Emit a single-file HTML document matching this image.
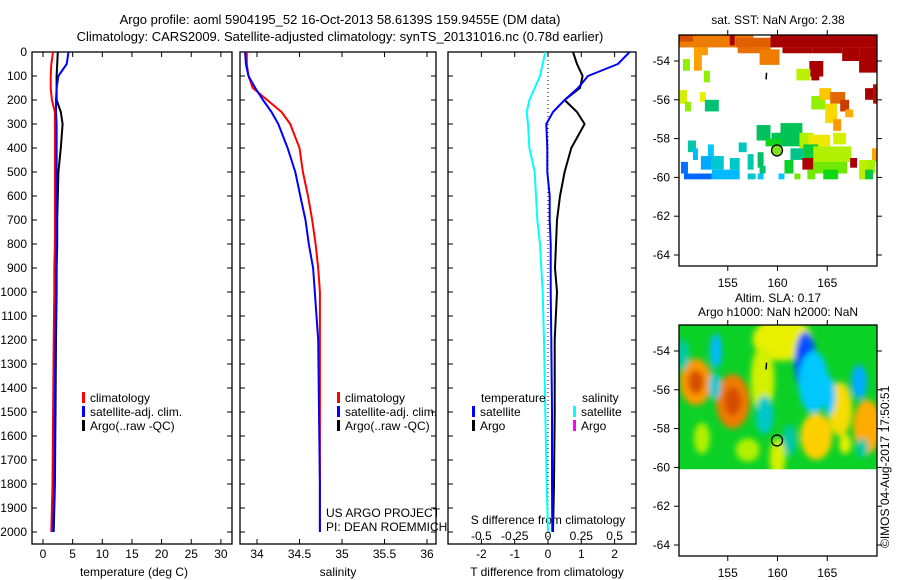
<!DOCTYPE html>
<html><head><meta charset="utf-8"><style>
html,body{margin:0;padding:0;background:#fff;}
svg{display:block;font-family:"Liberation Sans",sans-serif;}
text{fill:#000;}
</style></head><body>
<svg id="chart" width="900" height="580" viewBox="0 0 900 580">
<defs>
<filter id="blur" x="-50%" y="-50%" width="200%" height="200%"><feGaussianBlur stdDeviation="3"/></filter>
<clipPath id="clipP1"><rect x="32" y="52" width="200" height="492"/></clipPath>
<clipPath id="clipP2"><rect x="240" y="52" width="196" height="492"/></clipPath>
<clipPath id="clipP3"><rect x="448" y="52" width="188" height="492"/></clipPath>
<clipPath id="clipM1"><rect x="679" y="35" width="198" height="231"/></clipPath>
<clipPath id="clipM2"><rect x="679" y="325" width="198" height="231"/></clipPath>
</defs>
<text x="340" y="24" font-size="13" text-anchor="middle">Argo profile: aoml 5904195_52 16-Oct-2013 58.6139S 159.9455E (DM data)</text>
<text x="340" y="41" font-size="13" text-anchor="middle">Climatology: CARS2009. Satellite-adjusted climatology: synTS_20131016.nc (0.78d earlier)</text>
<text x="778" y="24" font-size="12" text-anchor="middle">sat. SST: NaN Argo: 2.38</text>
<text x="778" y="302" font-size="12" text-anchor="middle">Altim. SLA: 0.17</text>
<text x="778" y="316" font-size="12" text-anchor="middle">Argo h1000: NaN h2000: NaN</text>
<text x="0" y="0" font-size="12" transform="translate(889,548) rotate(-90)">©IMOS 04-Aug-2017 17:50:51</text>
<g id="layers"></g>
</svg>
<script>
// ---------- data ----------
const depths      = [0, 50, 100, 150, 200, 250, 300, 400, 500, 600, 700, 800, 900, 1000, 1200, 1500, 1800, 2000];
const tempClim    = [1.7, 1.4, 1.3, 1.3, 1.5, 2.0, 2.0, 2.0, 2.0, 2.0, 2.0, 2.0, 1.9, 1.9, 1.8, 1.7, 1.6, 1.4];
const tempSat     = [4.3, 4.0, 2.6, 2.3, 2.2, 2.2, 2.3, 2.3, 2.3, 2.3, 2.3, 2.3, 2.2, 2.2, 2.1, 2.0, 1.9, 1.7];
const tempArgo    = [2.5, 2.4, 2.3, 2.3, 2.3, 3.0, 3.3, 3.0, 2.6, 2.5, 2.4, 2.4, 2.3, 2.3, 2.2, 2.1, 2.0, 1.8];
const salClim     = [33.88, 33.88, 33.90, 33.95, 34.12, 34.29, 34.39, 34.50, 34.54, 34.60, 34.65, 34.69, 34.72, 34.74, 34.74, 34.74, 34.74, 34.74];
const salSat      = [33.86, 33.87, 33.90, 33.98, 34.07, 34.17, 34.25, 34.36, 34.45, 34.51, 34.57, 34.61, 34.66, 34.68, 34.72, 34.73, 34.74, 34.74];
const dTSat       = [2.45, 2.1, 1.2, 0.9, 0.5, 0.15, -0.05, -0.02, -0.02, 0.05, 0.05, 0.08, 0.08, 0.08, 0.1, 0.12, 0.12, 0.13];
const dTArgo      = [0.75, 0.87, 1.04, 0.96, 0.5, 0.87, 1.1, 0.7, 0.5, 0.36, 0.27, 0.24, 0.21, 0.27, 0.2, 0.2, 0.18, 0.15];
const dSSat       = [-0.02, -0.04, -0.06, -0.10, -0.14, -0.16, -0.15, -0.14, -0.10, -0.09, -0.08, -0.06, -0.05, -0.04, -0.03, -0.02, -0.01, 0.0];
const depthTicks  = [0,100,200,300,400,500,600,700,800,900,1000,1100,1200,1300,1400,1500,1600,1700,1800,1900,2000];
const tempTicks   = [0,5,10,15,20,25,30];
const salTicks    = [34,34.5,35,35.5,36];
const salTickLbl  = ["34","34.5","35","35.5","36"];
const dTTicks     = [-2,-1,0,1,2];
const dSTicks     = [-0.5,-0.25,0,0.25,0.5];
const dSTickLbl   = ["-0.5","-0.25","0","0.25","0.5"];
const lonTicks    = [155,160,165];
const latTicks    = [-54,-56,-58,-60,-62,-64];
const argoLon = 159.95, argoLat = -58.61;
// SST cells: lon0, lon1, lat0(top), lat1(bottom), value 0..1
const sstCells = [
 [150.1,157.6,-52.66,-53.3,0.82],[150.1,151.5,-52.66,-53.0,0.88],[151.6,152.4,-53.3,-54.5,0.77],[152.4,153.0,-53.3,-53.7,0.78],
 [155.2,155.7,-52.66,-53.2,1.0],[155.8,159.5,-52.8,-53.3,0.86],[156.0,159.3,-53.3,-53.6,0.84],[158.2,160.2,-53.4,-54.2,0.82],
 [159.3,170,-52.66,-53.3,1.0],[160.5,163.5,-53.3,-53.6,1.0],[163.5,166.5,-53.3,-53.6,1.0],[166.5,168.2,-53.3,-54.0,1.0],
 [168.2,170,-53.3,-54.6,1.0],[163.2,164.6,-54.0,-54.8,1.0],[163.4,164.2,-54.8,-55.0,1.0],[168.8,169.6,-55.4,-56.0,1.0],[169.6,170,-55.2,-56.2,0.95],
 [150.5,151.2,-53.9,-54.5,0.52],[152.6,153.2,-54.5,-55.1,0.52],[150.2,150.9,-55.5,-56.2,0.58],[150.7,151.3,-56.1,-56.6,0.52],
 [152.2,152.8,-55.6,-56.1,0.6],[152.7,154.1,-56.0,-56.6,0.35],[161.9,163.3,-54.4,-55.0,0.56],
 [163.4,164.8,-55.8,-56.5,0.52],[164.2,165.4,-55.4,-56.0,0.7],[165.3,166.8,-55.6,-56.2,0.85],[164.8,166.0,-56.2,-57.2,0.66],[166.3,167.2,-56.0,-56.6,0.9],[166.8,167.6,-56.5,-56.9,0.75],[165.6,166.4,-57.0,-57.6,0.78],
 [157.9,159.3,-57.3,-58.1,0.37],[160.3,162.5,-57.2,-58.0,0.38],[159.4,162.3,-57.7,-58.4,0.38],[158.8,160.4,-58.0,-58.4,0.43],[162.2,163.6,-57.7,-58.5,0.55],
 [163.1,165.3,-57.8,-58.4,0.62],[165.6,166.9,-57.7,-58.3,0.58],[162.6,164.1,-58.3,-59.0,0.4],[161.3,162.6,-58.5,-59.1,0.33],
 [163.6,167.4,-58.4,-59.2,0.55],[162.5,163.6,-59.0,-59.6,0.98],[163.6,167.0,-59.2,-59.8,0.5],[164.6,166.1,-59.6,-60.1,0.44],[163.0,163.8,-59.6,-60.1,0.5],
 [167.3,168.0,-59.0,-59.5,1.0],[168.2,169.0,-59.1,-60.1,0.56],[169.5,170,-58.5,-59.2,0.76],[169.0,169.8,-59.1,-59.8,0.54],[168.8,169.6,-59.6,-60.1,0.4],
 [160.7,161.6,-59.1,-59.8,0.42],[158.0,158.6,-58.7,-59.5,0.36],[158.2,158.8,-59.4,-59.8,0.35],
 [151.0,151.8,-58.1,-58.7,0.3],[151.5,152.0,-58.5,-59.1,0.2],[153.0,153.6,-58.3,-59.1,0.22],[152.3,153.4,-58.9,-59.6,0.18],[153.4,154.6,-58.9,-59.6,0.26],
 [150.3,151.0,-59.2,-59.8,0.1],[150.6,153.4,-59.8,-60.1,0.08],[153.4,156.2,-59.6,-60.1,0.2],[155.2,156.2,-59.0,-59.6,0.27],[156.1,156.9,-58.2,-58.7,0.28],
 [157.0,157.8,-59.8,-60.1,0.27],[158.0,158.6,-59.8,-60.1,0.22],[160.1,160.7,-59.8,-60.1,0.22],[157.0,157.6,-58.8,-59.6,0.29],[161.7,162.3,-59.8,-60.1,0.5]
];
// SLA blobs: lon, lat, rxDeg, ryDeg, value 0..1 (0.4 = background)
const slaBlobs = [
 [160.5,-53.4,3.0,1.1,0.6],[158.5,-55.5,1.2,1.8,0.58],[151.8,-55.6,1.6,1.2,0.78],[155.5,-56.6,1.7,1.4,0.82],[163.9,-58.4,1.6,1.2,0.68],
 [169.0,-57.9,1.4,1.4,0.75],[166.3,-57.0,1.2,1.4,0.65],[162.8,-54.6,1.1,1.6,0.05],[163.6,-55.6,1.5,1.6,0.22],[168.2,-55.6,0.8,0.9,0.18],
 [153.8,-54.0,0.6,0.9,0.2],[153.7,-55.8,0.6,0.7,0.26],[158.7,-57.3,0.9,1.0,0.27],[161.2,-58.6,0.7,0.8,0.3],[165.2,-56.3,0.6,1.0,0.22],
 [160.0,-59.5,0.8,1.0,0.58],[157.0,-59.1,1.2,0.6,0.55],[152.4,-58.5,0.8,0.8,0.55],[166.8,-58.8,0.6,0.5,0.6],[150.5,-54.2,0.6,0.8,0.3],[168.5,-59.0,0.6,0.5,0.3]
];
// ---------- helpers ----------
const NS='http://www.w3.org/2000/svg';
const root=document.getElementById('layers');
function mk(tag,attrs,parent){const e=document.createElementNS(NS,tag);for(const k in attrs)e.setAttribute(k,attrs[k]);(parent||root).appendChild(e);return e;}
const yD=d=>52+d*0.24;
const xT=v=>43+v*5.93;
const xS=v=>257+(v-34)*85;
const xDT=v=>548+v*33.3;
const xDS=v=>548+v*133.2;
const mLon=l=>679+(l-150.1)*9.95;
const mLat1=l=>61+(-54-l)*19.4;
const mLat2=l=>351+(-54-l)*19.4;
const stops=[[0,'#0038ff'],[0.12,'#0080ff'],[0.22,'#00c8ff'],[0.3,'#00c8a8'],[0.37,'#00c060'],[0.44,'#10d810'],[0.52,'#90f000'],[0.6,'#e8f000'],[0.68,'#ffd000'],[0.77,'#ffa000'],[0.86,'#e06000'],[0.95,'#b01000'],[1,'#a80000']];
function hex(h){return [parseInt(h.substr(1,2),16),parseInt(h.substr(3,2),16),parseInt(h.substr(5,2),16)];}
function cmap(v){v=Math.max(0,Math.min(1,v));for(let i=1;i<stops.length;i++){if(v<=stops[i][0]){const a=stops[i-1],b=stops[i];const t=(v-a[0])/(b[0]-a[0]);const ca=hex(a[1]),cb=hex(b[1]);return 'rgb('+ca.map((c,j)=>Math.round(c+(cb[j]-c)*t)).join(',')+')';}}return stops[stops.length-1][1];}

function panel(name,x0,x1){
  const g=mk('g',{});
  
  
  const f=mk('rect',{x:x0,y:52,width:x1-x0,height:492,fill:'none',stroke:'#000','stroke-width':1.3},g);
  
  
  depthTicks.forEach(d=>{const y=yD(d);mk('line',{x1:x0,x2:x0+5,y1:y,y2:y,stroke:'#000'},g);mk('line',{x1:x1-5,x2:x1,y1:y,y2:y,stroke:'#000'},g);});
  return g;
}
function line(g,xs,ys,col,w,name){
  const p=mk('polyline',{points:xs.map((v,i)=>v.toFixed(1)+','+ys[i].toFixed(1)).join(' '),fill:'none',stroke:col,'stroke-width':w,'stroke-linejoin':'round'},g);
  
  
}
function txt(g,x,y,s,size,anchor,name,col){
  const t=mk('text',{x:x,y:y,'font-size':size,'text-anchor':anchor||'start'},g);
  if(col)t.setAttribute('fill',col);
  t.textContent=s;
  
  
  return t;
}
function legendItem(g,x,y,col,label,name){
  const r=mk('rect',{x:x,y:y-10,width:3,height:11,fill:col},g);
  
  
  txt(g,x+8,y,label,12,'start',name);
}
// ---------- panel 1: temperature ----------
const p1=panel('temperature-panel',32,232);
depthTicks.forEach(d=>txt(p1,27,yD(d)+4,String(d),12,'end','depth-tick-label'));
tempTicks.forEach(v=>{mk('line',{x1:xT(v),x2:xT(v),y1:544,y2:539,stroke:'#000'},p1);mk('line',{x1:xT(v),x2:xT(v),y1:52,y2:57,stroke:'#000'},p1);txt(p1,xT(v),558,String(v),12,'middle','temperature-tick-label');});
txt(p1,134,576,'temperature (deg C)',12,'middle','temperature-axis-title');
const c1=mk('g',{'clip-path':'url(#clipP1)'},p1);
const ysD=depths.map(yD);
line(c1,tempClim.map(xT),ysD,'#ff0000',2,'temp-climatology-line');
line(c1,tempArgo.map(xT),ysD,'#000000',2,'temp-argo-line');
line(c1,tempSat.map(xT),ysD,'#0000ff',2,'temp-satellite-line');
legendItem(p1,82,402,'#ff0000','climatology','legend-climatology');
legendItem(p1,82,416,'#0000ff','satellite-adj. clim.','legend-satellite');
legendItem(p1,82,430,'#000000','Argo(..raw -QC)','legend-argo');
// ---------- panel 2: salinity ----------
const p2=panel('salinity-panel',240,436);
salTicks.forEach((v,i)=>{mk('line',{x1:xS(v),x2:xS(v),y1:544,y2:539,stroke:'#000'},p2);mk('line',{x1:xS(v),x2:xS(v),y1:52,y2:57,stroke:'#000'},p2);txt(p2,xS(v),558,salTickLbl[i],12,'middle','salinity-tick-label');});
txt(p2,338,576,'salinity',12,'middle','salinity-axis-title');
const c2=mk('g',{'clip-path':'url(#clipP2)'},p2);
line(c2,salClim.map(xS),ysD,'#ff0000',2,'sal-climatology-line');
line(c2,salSat.map(xS),ysD,'#0000ff',2,'sal-satellite-line');
legendItem(p2,337,402,'#ff0000','climatology','legend-sal-climatology');
legendItem(p2,337,416,'#0000ff','satellite-adj. clim.','legend-sal-satellite');
legendItem(p2,337,430,'#000000','Argo(..raw -QC)','legend-sal-argo');
txt(p2,326,517,'US ARGO PROJECT',12,'start','project-label');
txt(p2,326,531,'PI: DEAN ROEMMICH',12,'start','pi-label');
// ---------- panel 3: differences ----------
const p3=panel('difference-panel',448,636);
dTTicks.forEach(v=>{mk('line',{x1:xDT(v),x2:xDT(v),y1:544,y2:539,stroke:'#000'},p3);mk('line',{x1:xDT(v),x2:xDT(v),y1:52,y2:57,stroke:'#000'},p3);txt(p3,xDT(v),558,String(v),12,'middle','t-diff-tick-label');});
txt(p3,547,576,'T difference from climatology',12,'middle','t-diff-axis-title');
dSTicks.forEach((v,i)=>txt(p3,xDS(v),540,dSTickLbl[i],12,'middle','s-diff-tick-label'));
txt(p3,548,524,'S difference from climatology',12,'middle','s-diff-axis-title');
const c3=mk('g',{'clip-path':'url(#clipP3)'},p3);
const zl=mk('line',{x1:xDT(0),x2:xDT(0),y1:52,y2:544,stroke:'#000','stroke-dasharray':'1,3'},c3);


line(c3,dSSat.map(xDS),ysD,'#00ffff',2,'s-diff-satellite-line');
line(c3,dTArgo.map(xDT),ysD,'#000000',2,'t-diff-argo-line');
line(c3,dTSat.map(xDT),ysD,'#0000ff',2,'t-diff-satellite-line');
txt(p3,481,402,'temperature',12,'start','legend-temperature-heading');
legendItem(p3,472,416,'#0000ff','satellite','legend-t-satellite');
legendItem(p3,472,430,'#000000','Argo','legend-t-argo');
txt(p3,582,402,'salinity',12,'start','legend-salinity-heading');
legendItem(p3,573,416,'#00ffff','satellite','legend-s-satellite');
legendItem(p3,573,430,'#ff00ff','Argo','legend-s-argo');
// ---------- maps ----------
function mapFrame(name){
  const g=mk('g',{});
  
  
  return g;
}
function mapAxes(g,top,mLat){
  const f=mk('rect',{x:679,y:top,width:198,height:231,fill:'none',stroke:'#000','stroke-width':1.3},g);
  
  
  lonTicks.forEach(l=>{const x=mLon(l);mk('line',{x1:x,x2:x,y1:top,y2:top-5,stroke:'#000'},g);mk('line',{x1:x,x2:x,y1:top+231,y2:top+236,stroke:'#000'},g);txt(g,x,top+252,String(l),12,'middle','map-lon-tick-label');});
  latTicks.forEach(l=>{const y=mLat(l);mk('line',{x1:679,x2:674,y1:y,y2:y,stroke:'#000'},g);mk('line',{x1:877,x2:882,y1:y,y2:y,stroke:'#000'},g);txt(g,670,y+4,String(l),12,'end','map-lat-tick-label');});
}
// SST map
const m1=mapFrame('sst-map');
const mc1=mk('g',{'clip-path':'url(#clipM1)'},m1);
sstCells.forEach(c=>{const r=mk('rect',{x:mLon(c[0]),y:mLat1(c[2]),width:(c[1]-c[0])*9.95,height:(c[2]-c[3])*19.4,fill:cmap(c[4])},mc1);
  
  });
mk('line',{x1:mLon(158.9),x2:mLon(158.85),y1:mLat1(-54.6),y2:mLat1(-54.95),stroke:'#000','stroke-width':1.5},mc1);
const d1=mk('circle',{cx:mLon(argoLon),cy:mLat1(argoLat),r:5.5,fill:'#80e020',stroke:'#000','stroke-width':1.3},mc1);


mapAxes(m1,35,mLat1);
// SLA map
const m2=mapFrame('sla-map');
const mc2=mk('g',{'clip-path':'url(#clipM2)'},m2);
const bg=mk('rect',{x:679,y:325,width:198,height:mLat2(-60.1)-325,fill:cmap(0.42)},mc2);


const bl=mk('g',{filter:'url(#blur)'},mc2);
slaBlobs.forEach(b=>{const e=mk('ellipse',{cx:mLon(b[0]),cy:mLat2(b[1]),rx:b[2]*9.95,ry:b[3]*19.4,fill:cmap(b[4])},bl);
  
  
  if(b[4]<0.15||b[4]>0.75){const e2=mk('ellipse',{cx:mLon(b[0]),cy:mLat2(b[1]),rx:b[2]*5,ry:b[3]*10,fill:cmap(b[4]<0.15?0.0:0.88)},bl);
    
    }});
mk('rect',{x:679,y:mLat2(-60.1),width:198,height:556-mLat2(-60.1),fill:'#fff'},mc2);
mk('line',{x1:mLon(158.9),x2:mLon(158.85),y1:mLat2(-54.6),y2:mLat2(-54.95),stroke:'#000','stroke-width':1.5},mc2);
const d2=mk('circle',{cx:mLon(argoLon),cy:mLat2(argoLat),r:5.5,fill:'none',stroke:'#000','stroke-width':1.3},mc2);


mapAxes(m2,325,mLat2);
</script>
</body></html>
